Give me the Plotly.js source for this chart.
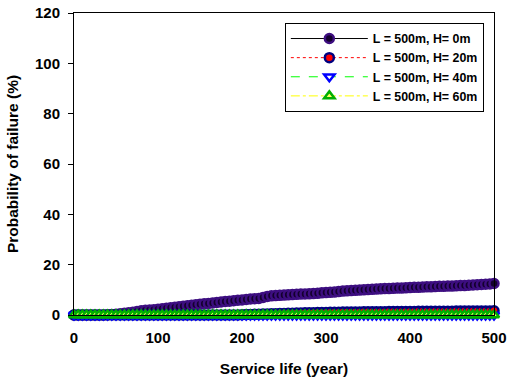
<!DOCTYPE html>
<html>
<head>
<meta charset="utf-8">
<script src="https://cdn.plot.ly/plotly-3.0.1.min.js"></script>
<style>
  html, body { margin: 0; padding: 0; background: #fff; }
  #chart { width: 508px; height: 381px; }
</style>
</head>
<body>
<div id="chart"></div>
<script>
// Service life in years, sampled every 5 years
const years = [
  0, 5, 10, 15, 20, 25, 30, 35, 40, 45, 50, 55, 60, 65, 70, 75, 80, 85, 90, 95,
  100, 105, 110, 115, 120, 125, 130, 135, 140, 145, 150, 155, 160, 165, 170, 175, 180, 185, 190, 195,
  200, 205, 210, 215, 220, 225, 230, 235, 240, 245, 250, 255, 260, 265, 270, 275, 280, 285, 290, 295,
  300, 305, 310, 315, 320, 325, 330, 335, 340, 345, 350, 355, 360, 365, 370, 375, 380, 385, 390, 395,
  400, 405, 410, 415, 420, 425, 430, 435, 440, 445, 450, 455, 460, 465, 470, 475, 480, 485, 490, 495,
  500
];

// Probability of failure (%) for L = 500m at each depth H
const pfH0 = [
  0, 0, 0, 0, 0, 0, 0, 0, 0.1, 0.2, 0.3, 0.5, 0.7, 0.9, 1.1, 1.4, 1.7, 1.9, 2.0, 2.1,
  2.3, 2.5, 2.7, 2.9, 3.1, 3.3, 3.5, 3.7, 3.9, 4.1, 4.3, 4.5, 4.6, 4.8, 5.0, 5.2, 5.4, 5.5, 5.7, 5.9,
  6.0, 6.2, 6.4, 6.5, 6.6, 7.0, 7.4, 7.6, 7.7, 7.8, 7.9, 8.0, 8.1, 8.2, 8.3, 8.35, 8.4, 8.5, 8.6, 8.8,
  8.9, 9.0, 9.1, 9.3, 9.5, 9.6, 9.7, 9.8, 9.9, 10.0, 10.1, 10.2, 10.3, 10.4, 10.5, 10.5, 10.6, 10.7, 10.7, 10.8,
  10.9, 11.0, 11.0, 11.1, 11.2, 11.2, 11.3, 11.4, 11.4, 11.5, 11.5, 11.6, 11.7, 11.7, 11.8, 11.9, 12.0, 12.1, 12.2, 12.3,
  12.5
];
const pfH20 = [
  0, 0, 0, 0, 0, 0, 0, 0, 0, 0, 0, 0, 0, 0, 0, 0, 0, 0, 0, 0,
  0, 0, 0, 0, 0, 0, 0, 0, 0, 0, 0, 0, 0, 0, 0, 0, 0, 0, 0, 0,
  0.1, 0.15, 0.2, 0.25, 0.3, 0.35, 0.4, 0.45, 0.5, 0.55, 0.6, 0.65, 0.7, 0.75, 0.8, 0.85, 0.9, 0.9, 0.95, 1.0,
  1.0, 1.05, 1.1, 1.1, 1.15, 1.15, 1.2, 1.2, 1.2, 1.25, 1.25, 1.3, 1.3, 1.3, 1.3, 1.35, 1.35, 1.35, 1.4, 1.4,
  1.4, 1.4, 1.45, 1.45, 1.45, 1.45, 1.5, 1.5, 1.5, 1.5, 1.5, 1.55, 1.55, 1.55, 1.55, 1.6, 1.6, 1.6, 1.6, 1.6,
  1.65
];
const pfH40 = [
  0, 0, 0, 0, 0, 0, 0, 0, 0, 0, 0, 0, 0, 0, 0, 0, 0, 0, 0, 0,
  0, 0, 0, 0, 0, 0, 0, 0, 0, 0, 0, 0, 0, 0, 0, 0, 0, 0, 0, 0,
  0, 0, 0, 0, 0, 0, 0, 0, 0, 0, 0, 0, 0, 0, 0, 0, 0, 0, 0, 0,
  0, 0, 0, 0, 0, 0, 0, 0, 0, 0, 0, 0, 0, 0, 0, 0, 0, 0, 0, 0,
  0, 0, 0, 0, 0, 0, 0, 0, 0, 0, 0, 0, 0, 0, 0, 0, 0, 0, 0, 0,
  0
];
const pfH60 = [
  0, 0, 0, 0, 0, 0, 0, 0, 0, 0, 0, 0, 0, 0, 0, 0, 0, 0, 0, 0,
  0, 0, 0, 0, 0, 0, 0, 0, 0, 0, 0, 0, 0, 0, 0, 0, 0, 0, 0, 0,
  0, 0, 0, 0, 0, 0, 0, 0, 0, 0, 0, 0, 0, 0, 0, 0, 0, 0, 0, 0,
  0, 0, 0, 0, 0, 0, 0, 0, 0, 0, 0, 0, 0, 0, 0, 0, 0, 0, 0, 0,
  0, 0, 0, 0, 0, 0, 0, 0, 0, 0, 0, 0, 0, 0, 0, 0, 0, 0, 0, 0,
  0
];

const seriesNames = ['L = 500m, H= 0m', 'L = 500m, H= 20m', 'L = 500m, H= 40m', 'L = 500m, H= 60m'];
const xTicks = [0, 100, 200, 300, 400, 500];
const yTicks = [0, 20, 40, 60, 80, 100, 120];

const font = 'Arial, "Liberation Sans", sans-serif';

const traces = [
  {
    x: years, y: pfH0, name: seriesNames[0], type: 'scatter', mode: 'lines+markers', cliponaxis: false,
    line: { color: '#000000', width: 1 },
    marker: { symbol: 'circle', size: 9, color: '#14002e', line: { color: '#3d0e80', width: 2.5 } }
  },
  {
    x: years, y: pfH20, name: seriesNames[1], type: 'scatter', mode: 'lines+markers', cliponaxis: false,
    line: { color: '#ff0000', width: 1, dash: 'dot' },
    marker: { symbol: 'circle', size: 9, color: '#ff0000', line: { color: '#000080', width: 2.5 } }
  },
  {
    x: years, y: pfH40, name: seriesNames[2], type: 'scatter', mode: 'lines+markers', cliponaxis: false,
    line: { color: '#00ff00', width: 1, dash: 'dash' },
    marker: { symbol: 'triangle-down', size: 9, color: '#ffffff', line: { color: '#0000ff', width: 2.5 } }
  },
  {
    x: years, y: pfH60, name: seriesNames[3], type: 'scatter', mode: 'lines+markers', cliponaxis: false,
    line: { color: '#ffff00', width: 1, dash: 'dashdot' },
    marker: { symbol: 'triangle-up', size: 9, color: '#ffff60', line: { color: '#00b000', width: 2.5 } }
  }
];

const layout = {
  width: 508, height: 381,
  margin: { l: 74, r: 14, t: 13, b: 66 },
  paper_bgcolor: '#ffffff', plot_bgcolor: '#ffffff',
  font: { family: font, color: '#000000' },
  showlegend: true,
  legend: {
    x: 0.502, y: 0.967, xanchor: 'left', yanchor: 'top',
    bordercolor: '#000000', borderwidth: 1, bgcolor: '#ffffff',
    font: { family: font, size: 12.4, color: '#000000', weight: 'bold' },
    itemwidth: 77, tracegroupgap: 0
  },
  xaxis: {
    range: [0, 500], tickvals: xTicks, ticktext: xTicks.map(String),
    showgrid: false, zeroline: false, showline: true, linecolor: '#000000', linewidth: 1, mirror: true,
    ticks: '', ticklabelstandoff: 9, tickfont: { family: font, size: 15, weight: 'bold' },
    title: { text: 'Service life (year)', font: { family: font, size: 15.5, weight: 'bold' }, standoff: 18 }
  },
  yaxis: {
    range: [0, 120], tickvals: yTicks, ticktext: yTicks.map(String),
    showgrid: false, zeroline: false, showline: true, linecolor: '#000000', linewidth: 1, mirror: true,
    ticks: 'outside', ticklen: 5, tickcolor: '#000000', ticklabelstandoff: 5,
    tickfont: { family: font, size: 15, weight: 'bold' },
    title: { text: 'Probability of failure (%)', font: { family: font, size: 15.5, weight: 'bold' }, standoff: 12 }
  }
};

Plotly.newPlot('chart', traces, layout, { displayModeBar: false, staticPlot: true });
</script>
</body>
</html>
